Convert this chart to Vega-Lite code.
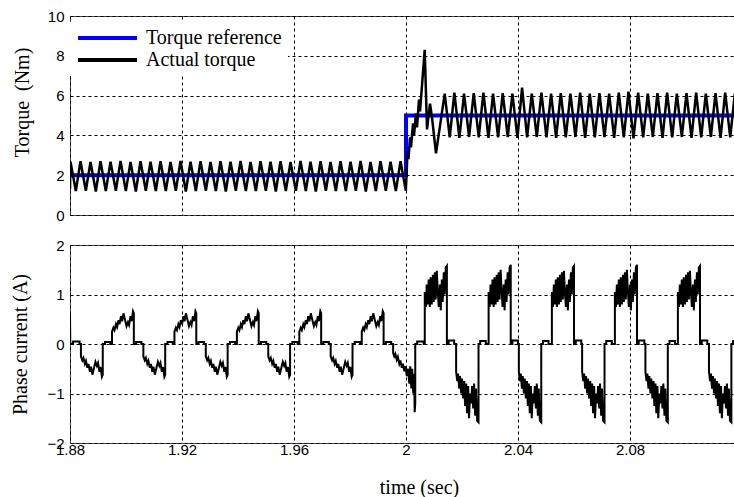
{
"$schema": "https://vega.github.io/schema/vega-lite/v6.json",
"background": "white",
"autosize": {"type": "pad"},
"padding": {"left": 10, "top": 8, "right": 0, "bottom": 4},
"spacing": 30,
"bounds": "flush",
"config": {
 "view": {"stroke": "#444", "strokeWidth": 1},
 "axis": {"grid": true, "gridColor": "black", "gridDash": [3, 3], "gridOpacity": 1, "gridWidth": 1, "domain": false, "ticks": false, "labelFont": "Liberation Sans", "labelFontSize": 15, "labelColor": "black", "labelOverlap": false, "titleFont": "Liberation Serif", "titleFontSize": 20, "titleFontWeight": "normal", "titleColor": "black", "labelPadding": 6},
 "legend": {"labelFont": "Liberation Serif", "labelFontSize": 20, "labelColor": "black"}
},
"datasets": {
 "ref": [{"t":1.88,"v":2},{"t":2.0,"v":2},{"t":2.0,"v":5},{"t":2.12,"v":5}],
 "torque": [
{"t":1.88,"v":1.3},
{"t":1.88018,"v":2.68},{"t":1.88208,"v":1.2},
{"t":1.88375,"v":2.7},{"t":1.88565,"v":1.22},
{"t":1.88732,"v":2.66},{"t":1.88922,"v":1.18},
{"t":1.89089,"v":2.7},{"t":1.89279,"v":1.2},
{"t":1.89447,"v":2.68},{"t":1.89637,"v":1.22},
{"t":1.89804,"v":2.72},{"t":1.89994,"v":1.2},
{"t":1.90161,"v":2.66},{"t":1.90351,"v":1.18},
{"t":1.90518,"v":2.7},{"t":1.90708,"v":1.22},
{"t":1.90875,"v":2.68},{"t":1.91065,"v":1.2},
{"t":1.91232,"v":2.7},{"t":1.91422,"v":1.2},
{"t":1.91589,"v":2.66},{"t":1.91779,"v":1.22},
{"t":1.91947,"v":2.72},{"t":1.92137,"v":1.18},
{"t":1.92304,"v":2.68},{"t":1.92494,"v":1.2},
{"t":1.92661,"v":2.7},{"t":1.92851,"v":1.22},
{"t":1.93018,"v":2.66},{"t":1.93208,"v":1.2},
{"t":1.93375,"v":2.7},{"t":1.93565,"v":1.18},
{"t":1.93732,"v":2.68},{"t":1.93922,"v":1.22},
{"t":1.94089,"v":2.72},{"t":1.94279,"v":1.2},
{"t":1.94447,"v":2.66},{"t":1.94637,"v":1.2},
{"t":1.94804,"v":2.7},{"t":1.94994,"v":1.22},
{"t":1.95161,"v":2.68},{"t":1.95351,"v":1.18},
{"t":1.95518,"v":2.7},{"t":1.95708,"v":1.2},
{"t":1.95875,"v":2.66},{"t":1.96065,"v":1.22},
{"t":1.96232,"v":2.72},{"t":1.96422,"v":1.2},
{"t":1.96589,"v":2.68},{"t":1.96779,"v":1.18},
{"t":1.96947,"v":2.7},{"t":1.97137,"v":1.22},
{"t":1.97304,"v":2.66},{"t":1.97494,"v":1.2},
{"t":1.97661,"v":2.7},{"t":1.97851,"v":1.2},
{"t":1.98018,"v":2.68},{"t":1.98208,"v":1.22},
{"t":1.98375,"v":2.72},{"t":1.98565,"v":1.18},
{"t":1.98732,"v":2.66},{"t":1.98922,"v":1.2},
{"t":1.99089,"v":2.7},{"t":1.99279,"v":1.22},
{"t":1.99447,"v":2.68},{"t":1.99637,"v":1.2},
{"t":1.99804,"v":2.7},{"t":1.99994,"v":1.22},
{"t":2.00054,"v":3.2},{"t":2.00089,"v":2.8},{"t":2.00143,"v":3.9},{"t":2.00179,"v":3.4},{"t":2.0025,"v":4.6},{"t":2.00286,"v":4.0},{"t":2.00357,"v":5.1},{"t":2.00393,"v":4.4},{"t":2.00464,"v":5.8},{"t":2.005,"v":5.2},{"t":2.00668,"v":8.3},{"t":2.0075,"v":4.3},{"t":2.00857,"v":5.6},{"t":2.00929,"v":4.9},{"t":2.01071,"v":3.1},
{"t":2.01382,"v":6.1},{"t":2.01562,"v":3.9},
{"t":2.01727,"v":6.15},{"t":2.01907,"v":3.88},
{"t":2.02073,"v":6.1},{"t":2.02253,"v":3.92},
{"t":2.02418,"v":6.12},{"t":2.02598,"v":3.9},
{"t":2.02764,"v":6.15},{"t":2.02944,"v":3.88},
{"t":2.03109,"v":6.1},{"t":2.03289,"v":3.9},
{"t":2.03454,"v":6.12},{"t":2.03634,"v":3.92},
{"t":2.038,"v":6.1},{"t":2.0398,"v":3.88},
{"t":2.04145,"v":6.4},{"t":2.04325,"v":3.9},
{"t":2.04491,"v":6.1},{"t":2.04671,"v":3.92},
{"t":2.04836,"v":6.15},{"t":2.05016,"v":3.9},
{"t":2.05181,"v":6.1},{"t":2.05361,"v":3.88},
{"t":2.05527,"v":6.12},{"t":2.05707,"v":3.9},
{"t":2.05872,"v":6.1},{"t":2.06052,"v":3.92},
{"t":2.06218,"v":6.15},{"t":2.06398,"v":3.88},
{"t":2.06563,"v":6.1},{"t":2.06743,"v":3.9},
{"t":2.06908,"v":6.12},{"t":2.07088,"v":3.92},
{"t":2.07254,"v":6.1},{"t":2.07434,"v":3.88},
{"t":2.07599,"v":6.15},{"t":2.07779,"v":3.9},
{"t":2.07945,"v":6.2},{"t":2.08125,"v":3.85},
{"t":2.0829,"v":6.15},{"t":2.0847,"v":3.9},
{"t":2.08635,"v":6.1},{"t":2.08815,"v":3.92},
{"t":2.08981,"v":6.12},{"t":2.09161,"v":3.88},
{"t":2.09326,"v":6.15},{"t":2.09506,"v":3.9},
{"t":2.09672,"v":6.1},{"t":2.09852,"v":3.92},
{"t":2.10017,"v":6.12},{"t":2.10197,"v":3.88},
{"t":2.10362,"v":6.15},{"t":2.10542,"v":3.9},
{"t":2.10708,"v":6.1},{"t":2.10888,"v":3.92},
{"t":2.11053,"v":6.12},{"t":2.11233,"v":3.88},
{"t":2.11399,"v":6.15},{"t":2.11579,"v":3.9},
{"t":2.11744,"v":6.1},{"t":2.11924,"v":3.9}
 ],
 "current": [
{"t":1.88,"v":0.6},{"t":1.8801,"v":0},{"t":1.8811,"v":0},{"t":1.8811,"v":0.05},{"t":1.8834,"v":0.05},{"t":1.8834,"v":0},{"t":1.8839,"v":0},
{"t":1.8839,"v":-0.25},{"t":1.8844,"v":-0.33},{"t":1.8848,"v":-0.28},{"t":1.8853,"v":-0.4},{"t":1.8857,"v":-0.34},{"t":1.8862,"v":-0.48},{"t":1.8866,"v":-0.4},{"t":1.8871,"v":-0.56},{"t":1.8875,"v":-0.46},{"t":1.888,"v":-0.62},{"t":1.8885,"v":-0.5},{"t":1.8891,"v":-0.36},{"t":1.8896,"v":-0.44},{"t":1.89,"v":-0.38},{"t":1.8905,"v":-0.56},{"t":1.8909,"v":-0.46},{"t":1.8914,"v":-0.66},{"t":1.8917,"v":-0.62},{"t":1.8917,"v":0},
{"t":1.8925,"v":0},{"t":1.8925,"v":0.04},{"t":1.8944,"v":0.04},{"t":1.8944,"v":0},{"t":1.895,"v":0},
{"t":1.895,"v":0.25},{"t":1.8955,"v":0.33},{"t":1.8959,"v":0.28},{"t":1.8964,"v":0.4},{"t":1.8968,"v":0.34},{"t":1.8973,"v":0.48},{"t":1.8977,"v":0.4},{"t":1.8982,"v":0.56},{"t":1.8986,"v":0.46},{"t":1.8991,"v":0.62},{"t":1.8996,"v":0.5},{"t":1.9002,"v":0.36},{"t":1.9007,"v":0.44},{"t":1.9011,"v":0.38},{"t":1.9016,"v":0.56},{"t":1.902,"v":0.46},{"t":1.9025,"v":0.66},{"t":1.9028,"v":0.62},{"t":1.9028,"v":0},
{"t":1.9036,"v":0},{"t":1.9036,"v":0.04},{"t":1.9055,"v":0.04},{"t":1.9055,"v":0},{"t":1.9062,"v":0},
{"t":1.9062,"v":-0.25},{"t":1.9067,"v":-0.33},{"t":1.9071,"v":-0.28},{"t":1.9076,"v":-0.4},{"t":1.908,"v":-0.34},{"t":1.9085,"v":-0.48},{"t":1.9089,"v":-0.4},{"t":1.9094,"v":-0.56},{"t":1.9098,"v":-0.46},{"t":1.9103,"v":-0.62},{"t":1.9108,"v":-0.5},{"t":1.9114,"v":-0.36},{"t":1.9119,"v":-0.44},{"t":1.9123,"v":-0.38},{"t":1.9128,"v":-0.56},{"t":1.9132,"v":-0.46},{"t":1.9137,"v":-0.66},{"t":1.914,"v":-0.62},{"t":1.914,"v":0},
{"t":1.9148,"v":0},{"t":1.9148,"v":0.04},{"t":1.9167,"v":0.04},{"t":1.9167,"v":0},{"t":1.9173,"v":0},
{"t":1.9173,"v":0.25},{"t":1.9178,"v":0.33},{"t":1.9182,"v":0.28},{"t":1.9187,"v":0.4},{"t":1.9191,"v":0.34},{"t":1.9196,"v":0.48},{"t":1.92,"v":0.4},{"t":1.9205,"v":0.56},{"t":1.9209,"v":0.46},{"t":1.9214,"v":0.62},{"t":1.9219,"v":0.5},{"t":1.9225,"v":0.36},{"t":1.923,"v":0.44},{"t":1.9234,"v":0.38},{"t":1.9239,"v":0.56},{"t":1.9243,"v":0.46},{"t":1.9248,"v":0.66},{"t":1.9251,"v":0.62},{"t":1.9251,"v":0},
{"t":1.9259,"v":0},{"t":1.9259,"v":0.04},{"t":1.9278,"v":0.04},{"t":1.9278,"v":0},{"t":1.9285,"v":0},
{"t":1.9285,"v":-0.25},{"t":1.929,"v":-0.33},{"t":1.9294,"v":-0.28},{"t":1.9299,"v":-0.4},{"t":1.9303,"v":-0.34},{"t":1.9308,"v":-0.48},{"t":1.9312,"v":-0.4},{"t":1.9317,"v":-0.56},{"t":1.9321,"v":-0.46},{"t":1.9326,"v":-0.62},{"t":1.9331,"v":-0.5},{"t":1.9337,"v":-0.36},{"t":1.9342,"v":-0.44},{"t":1.9346,"v":-0.38},{"t":1.9351,"v":-0.56},{"t":1.9355,"v":-0.46},{"t":1.936,"v":-0.66},{"t":1.9363,"v":-0.62},{"t":1.9363,"v":0},
{"t":1.9371,"v":0},{"t":1.9371,"v":0.04},{"t":1.939,"v":0.04},{"t":1.939,"v":0},{"t":1.9396,"v":0},
{"t":1.9396,"v":0.25},{"t":1.9401,"v":0.33},{"t":1.9405,"v":0.28},{"t":1.941,"v":0.4},{"t":1.9414,"v":0.34},{"t":1.9419,"v":0.48},{"t":1.9423,"v":0.4},{"t":1.9428,"v":0.56},{"t":1.9432,"v":0.46},{"t":1.9437,"v":0.62},{"t":1.9442,"v":0.5},{"t":1.9448,"v":0.36},{"t":1.9453,"v":0.44},{"t":1.9457,"v":0.38},{"t":1.9462,"v":0.56},{"t":1.9466,"v":0.46},{"t":1.9471,"v":0.66},{"t":1.9474,"v":0.62},{"t":1.9474,"v":0},
{"t":1.9482,"v":0},{"t":1.9482,"v":0.04},{"t":1.9501,"v":0.04},{"t":1.9501,"v":0},{"t":1.9508,"v":0},
{"t":1.9508,"v":-0.25},{"t":1.9513,"v":-0.33},{"t":1.9517,"v":-0.28},{"t":1.9522,"v":-0.4},{"t":1.9526,"v":-0.34},{"t":1.9531,"v":-0.48},{"t":1.9535,"v":-0.4},{"t":1.954,"v":-0.56},{"t":1.9544,"v":-0.46},{"t":1.9549,"v":-0.62},{"t":1.9554,"v":-0.5},{"t":1.956,"v":-0.36},{"t":1.9565,"v":-0.44},{"t":1.9569,"v":-0.38},{"t":1.9574,"v":-0.56},{"t":1.9578,"v":-0.46},{"t":1.9583,"v":-0.66},{"t":1.9586,"v":-0.62},{"t":1.9586,"v":0},
{"t":1.9594,"v":0},{"t":1.9594,"v":0.04},{"t":1.9613,"v":0.04},{"t":1.9613,"v":0},{"t":1.9619,"v":0},
{"t":1.9619,"v":0.25},{"t":1.9624,"v":0.33},{"t":1.9628,"v":0.28},{"t":1.9633,"v":0.4},{"t":1.9637,"v":0.34},{"t":1.9642,"v":0.48},{"t":1.9646,"v":0.4},{"t":1.9651,"v":0.56},{"t":1.9655,"v":0.46},{"t":1.966,"v":0.62},{"t":1.9665,"v":0.5},{"t":1.9671,"v":0.36},{"t":1.9676,"v":0.44},{"t":1.968,"v":0.38},{"t":1.9685,"v":0.56},{"t":1.9689,"v":0.46},{"t":1.9694,"v":0.66},{"t":1.9697,"v":0.62},{"t":1.9697,"v":0},
{"t":1.9705,"v":0},{"t":1.9705,"v":0.04},{"t":1.9724,"v":0.04},{"t":1.9724,"v":0},{"t":1.9731,"v":0},
{"t":1.9731,"v":-0.25},{"t":1.9736,"v":-0.33},{"t":1.974,"v":-0.28},{"t":1.9745,"v":-0.4},{"t":1.9749,"v":-0.34},{"t":1.9754,"v":-0.48},{"t":1.9758,"v":-0.4},{"t":1.9763,"v":-0.56},{"t":1.9767,"v":-0.46},{"t":1.9772,"v":-0.62},{"t":1.9777,"v":-0.5},{"t":1.9783,"v":-0.36},{"t":1.9788,"v":-0.44},{"t":1.9792,"v":-0.38},{"t":1.9797,"v":-0.56},{"t":1.9801,"v":-0.46},{"t":1.9806,"v":-0.66},{"t":1.9809,"v":-0.62},{"t":1.9809,"v":0},
{"t":1.9817,"v":0},{"t":1.9817,"v":0.04},{"t":1.9836,"v":0.04},{"t":1.9836,"v":0},{"t":1.9842,"v":0},
{"t":1.9842,"v":0.25},{"t":1.9847,"v":0.33},{"t":1.9851,"v":0.28},{"t":1.9856,"v":0.4},{"t":1.986,"v":0.34},{"t":1.9865,"v":0.48},{"t":1.9869,"v":0.4},{"t":1.9874,"v":0.56},{"t":1.9878,"v":0.46},{"t":1.9883,"v":0.62},{"t":1.9888,"v":0.5},{"t":1.9894,"v":0.36},{"t":1.9899,"v":0.44},{"t":1.9903,"v":0.38},{"t":1.9908,"v":0.56},{"t":1.9912,"v":0.46},{"t":1.9917,"v":0.66},{"t":1.992,"v":0.62},{"t":1.992,"v":0},
{"t":1.9928,"v":0},{"t":1.9928,"v":0.04},{"t":1.9947,"v":0.04},{"t":1.9947,"v":0},{"t":1.9954,"v":0},
{"t":1.9954,"v":-0.18},{"t":1.9958,"v":-0.25},{"t":1.9962,"v":-0.2},{"t":1.9967,"v":-0.32},{"t":1.9971,"v":-0.26},{"t":1.9976,"v":-0.4},{"t":1.998,"v":-0.33},{"t":1.9985,"v":-0.48},{"t":1.9989,"v":-0.4},{"t":1.9994,"v":-0.55},{"t":1.9998,"v":-0.45},{"t":2.0003,"v":-0.65},{"t":2.0007,"v":-0.5},{"t":2.0012,"v":-0.8},{"t":2.0015,"v":-0.45},{"t":2.0019,"v":-0.9},{"t":2.0022,"v":-0.5},{"t":2.0026,"v":-1.0},{"t":2.0029,"v":-0.6},{"t":2.0031,"v":-1.38},{"t":2.0033,"v":-1.2},{"t":2.0033,"v":0},
{"t":2.004,"v":0},{"t":2.004,"v":0.05},{"t":2.0063,"v":0.05},{"t":2.0063,"v":0},{"t":2.0067,"v":0},
{"t":2.0067,"v":1.05},{"t":2.0071,"v":0.75},{"t":2.0074,"v":1.2},{"t":2.0078,"v":0.8},{"t":2.0081,"v":1.3},{"t":2.0085,"v":0.75},{"t":2.0088,"v":1.35},{"t":2.0092,"v":0.8},{"t":2.0096,"v":1.4},{"t":2.0099,"v":0.85},{"t":2.0103,"v":1.45},{"t":2.0106,"v":0.9},{"t":2.011,"v":1.48},{"t":2.0113,"v":1.1},{"t":2.0117,"v":0.75},{"t":2.0121,"v":1.2},{"t":2.0124,"v":0.68},{"t":2.0128,"v":1.3},{"t":2.0131,"v":0.85},{"t":2.0135,"v":1.45},{"t":2.0138,"v":1.0},{"t":2.0142,"v":1.55},{"t":2.0146,"v":1.58},{"t":2.0146,"v":0},
{"t":2.0152,"v":0},{"t":2.0152,"v":0.07},{"t":2.0172,"v":0.07},{"t":2.0172,"v":0},{"t":2.0179,"v":0},
{"t":2.0179,"v":-0.56},{"t":2.0183,"v":-0.75},{"t":2.0186,"v":-0.6},{"t":2.019,"v":-0.9},{"t":2.0193,"v":-0.65},{"t":2.0197,"v":-1.0},{"t":2.02,"v":-0.7},{"t":2.0204,"v":-1.1},{"t":2.0208,"v":-0.75},{"t":2.0211,"v":-1.25},{"t":2.0215,"v":-0.8},{"t":2.0218,"v":-1.4},{"t":2.0222,"v":-0.85},{"t":2.0225,"v":-1.5},{"t":2.0229,"v":-1.0},{"t":2.0233,"v":-1.2},{"t":2.0236,"v":-0.85},{"t":2.024,"v":-1.3},{"t":2.0243,"v":-0.8},{"t":2.0247,"v":-1.45},{"t":2.025,"v":-0.9},{"t":2.0254,"v":-1.55},{"t":2.0259,"v":-1.58},{"t":2.0259,"v":0},
{"t":2.0265,"v":0},{"t":2.0265,"v":0.06},{"t":2.0285,"v":0.06},{"t":2.0285,"v":0},{"t":2.0295,"v":0},
{"t":2.0295,"v":1.05},{"t":2.0299,"v":0.75},{"t":2.0302,"v":1.2},{"t":2.0306,"v":0.8},{"t":2.0309,"v":1.3},{"t":2.0313,"v":0.75},{"t":2.0316,"v":1.35},{"t":2.032,"v":0.8},{"t":2.0324,"v":1.4},{"t":2.0327,"v":0.85},{"t":2.0331,"v":1.45},{"t":2.0334,"v":0.9},{"t":2.0338,"v":1.5},{"t":2.0341,"v":1.1},{"t":2.0345,"v":0.75},{"t":2.0349,"v":1.2},{"t":2.0352,"v":0.68},{"t":2.0356,"v":1.3},{"t":2.0359,"v":0.85},{"t":2.0363,"v":1.45},{"t":2.0366,"v":1.0},{"t":2.037,"v":1.55},{"t":2.0374,"v":1.6},{"t":2.0374,"v":0},
{"t":2.038,"v":0},{"t":2.038,"v":0.07},{"t":2.04,"v":0.07},{"t":2.04,"v":0},{"t":2.0403,"v":0},
{"t":2.0403,"v":-0.56},{"t":2.0407,"v":-0.75},{"t":2.041,"v":-0.6},{"t":2.0414,"v":-0.9},{"t":2.0417,"v":-0.65},{"t":2.0421,"v":-1.0},{"t":2.0424,"v":-0.7},{"t":2.0428,"v":-1.1},{"t":2.0432,"v":-0.75},{"t":2.0435,"v":-1.25},{"t":2.0439,"v":-0.8},{"t":2.0442,"v":-1.4},{"t":2.0446,"v":-0.85},{"t":2.0449,"v":-1.5},{"t":2.0453,"v":-1.0},{"t":2.0457,"v":-1.2},{"t":2.046,"v":-0.85},{"t":2.0464,"v":-1.3},{"t":2.0467,"v":-0.8},{"t":2.0471,"v":-1.45},{"t":2.0474,"v":-0.9},{"t":2.0478,"v":-1.55},{"t":2.0483,"v":-1.58},{"t":2.0483,"v":0},
{"t":2.0489,"v":0},{"t":2.0489,"v":0.06},{"t":2.0509,"v":0.06},{"t":2.0509,"v":0},{"t":2.0521,"v":0},
{"t":2.0521,"v":1.05},{"t":2.0525,"v":0.75},{"t":2.0528,"v":1.2},{"t":2.0532,"v":0.8},{"t":2.0535,"v":1.3},{"t":2.0539,"v":0.75},{"t":2.0542,"v":1.35},{"t":2.0546,"v":0.8},{"t":2.055,"v":1.4},{"t":2.0553,"v":0.85},{"t":2.0557,"v":1.45},{"t":2.056,"v":0.9},{"t":2.0564,"v":1.48},{"t":2.0567,"v":1.1},{"t":2.0571,"v":0.75},{"t":2.0575,"v":1.2},{"t":2.0578,"v":0.68},{"t":2.0582,"v":1.3},{"t":2.0585,"v":0.85},{"t":2.0589,"v":1.45},{"t":2.0592,"v":1.0},{"t":2.0596,"v":1.55},{"t":2.06,"v":1.58},{"t":2.06,"v":0},
{"t":2.0606,"v":0},{"t":2.0606,"v":0.07},{"t":2.0626,"v":0.07},{"t":2.0626,"v":0},{"t":2.0629,"v":0},
{"t":2.0629,"v":-0.56},{"t":2.0633,"v":-0.75},{"t":2.0636,"v":-0.6},{"t":2.064,"v":-0.9},{"t":2.0643,"v":-0.65},{"t":2.0647,"v":-1.0},{"t":2.065,"v":-0.7},{"t":2.0654,"v":-1.1},{"t":2.0658,"v":-0.75},{"t":2.0661,"v":-1.25},{"t":2.0665,"v":-0.8},{"t":2.0668,"v":-1.4},{"t":2.0672,"v":-0.85},{"t":2.0675,"v":-1.5},{"t":2.0679,"v":-1.0},{"t":2.0683,"v":-1.2},{"t":2.0686,"v":-0.85},{"t":2.069,"v":-1.3},{"t":2.0693,"v":-0.8},{"t":2.0697,"v":-1.45},{"t":2.07,"v":-0.9},{"t":2.0704,"v":-1.55},{"t":2.0709,"v":-1.58},{"t":2.0709,"v":0},
{"t":2.0715,"v":0},{"t":2.0715,"v":0.06},{"t":2.0735,"v":0.06},{"t":2.0735,"v":0},{"t":2.0746,"v":0},
{"t":2.0746,"v":1.05},{"t":2.075,"v":0.75},{"t":2.0753,"v":1.2},{"t":2.0757,"v":0.8},{"t":2.076,"v":1.3},{"t":2.0764,"v":0.75},{"t":2.0767,"v":1.35},{"t":2.0771,"v":0.8},{"t":2.0775,"v":1.4},{"t":2.0778,"v":0.85},{"t":2.0782,"v":1.45},{"t":2.0785,"v":0.9},{"t":2.0789,"v":1.5},{"t":2.0792,"v":1.1},{"t":2.0796,"v":0.75},{"t":2.08,"v":1.2},{"t":2.0803,"v":0.68},{"t":2.0807,"v":1.3},{"t":2.081,"v":0.85},{"t":2.0814,"v":1.45},{"t":2.0817,"v":1.0},{"t":2.0821,"v":1.55},{"t":2.0825,"v":1.6},{"t":2.0825,"v":0},
{"t":2.0831,"v":0},{"t":2.0831,"v":0.07},{"t":2.0851,"v":0.07},{"t":2.0851,"v":0},{"t":2.0855,"v":0},
{"t":2.0855,"v":-0.56},{"t":2.0859,"v":-0.75},{"t":2.0862,"v":-0.6},{"t":2.0866,"v":-0.9},{"t":2.0869,"v":-0.65},{"t":2.0873,"v":-1.0},{"t":2.0876,"v":-0.7},{"t":2.088,"v":-1.1},{"t":2.0884,"v":-0.75},{"t":2.0887,"v":-1.25},{"t":2.0891,"v":-0.8},{"t":2.0894,"v":-1.4},{"t":2.0898,"v":-0.85},{"t":2.0901,"v":-1.5},{"t":2.0905,"v":-1.0},{"t":2.0909,"v":-1.2},{"t":2.0912,"v":-0.85},{"t":2.0916,"v":-1.3},{"t":2.0919,"v":-0.8},{"t":2.0923,"v":-1.45},{"t":2.0926,"v":-0.9},{"t":2.093,"v":-1.55},{"t":2.0935,"v":-1.58},{"t":2.0935,"v":0},
{"t":2.0941,"v":0},{"t":2.0941,"v":0.06},{"t":2.0961,"v":0.06},{"t":2.0961,"v":0},{"t":2.0971,"v":0},
{"t":2.0971,"v":1.05},{"t":2.0975,"v":0.75},{"t":2.0978,"v":1.2},{"t":2.0982,"v":0.8},{"t":2.0985,"v":1.3},{"t":2.0989,"v":0.75},{"t":2.0992,"v":1.35},{"t":2.0996,"v":0.8},{"t":2.1,"v":1.4},{"t":2.1003,"v":0.85},{"t":2.1007,"v":1.45},{"t":2.101,"v":0.9},{"t":2.1014,"v":1.48},{"t":2.1017,"v":1.1},{"t":2.1021,"v":0.75},{"t":2.1025,"v":1.2},{"t":2.1028,"v":0.68},{"t":2.1032,"v":1.3},{"t":2.1035,"v":0.85},{"t":2.1039,"v":1.45},{"t":2.1042,"v":1.0},{"t":2.1046,"v":1.55},{"t":2.105,"v":1.58},{"t":2.105,"v":0},
{"t":2.1056,"v":0},{"t":2.1056,"v":0.07},{"t":2.1076,"v":0.07},{"t":2.1076,"v":0},{"t":2.1082,"v":0},
{"t":2.1082,"v":-0.56},{"t":2.1086,"v":-0.75},{"t":2.1089,"v":-0.6},{"t":2.1093,"v":-0.9},{"t":2.1096,"v":-0.65},{"t":2.11,"v":-1.0},{"t":2.1103,"v":-0.7},{"t":2.1107,"v":-1.1},{"t":2.1111,"v":-0.75},{"t":2.1114,"v":-1.25},{"t":2.1118,"v":-0.8},{"t":2.1121,"v":-1.4},{"t":2.1125,"v":-0.85},{"t":2.1128,"v":-1.5},{"t":2.1132,"v":-1.0},{"t":2.1136,"v":-1.2},{"t":2.1139,"v":-0.85},{"t":2.1143,"v":-1.3},{"t":2.1146,"v":-0.8},{"t":2.115,"v":-1.45},{"t":2.1153,"v":-0.9},{"t":2.1157,"v":-1.55},{"t":2.1162,"v":-1.58},{"t":2.1162,"v":0},
{"t":2.1168,"v":0},{"t":2.1168,"v":0.06},{"t":2.1188,"v":0.06},{"t":2.1188,"v":0},{"t":2.1196,"v":0},{"t":2.1196,"v":1.05},{"t":2.12,"v":0.75}
 ]
},
"vconcat": [
 {
  "width": 667, "height": 199,
  "encoding": {
   "x": {"field": "t", "type": "quantitative", "scale": {"domain": [1.88, 2.11821], "nice": false, "zero": false}, "axis": {"labels": false, "title": null, "values": [1.88, 1.92, 1.96, 2, 2.04, 2.08]}},
   "y": {"field": "v", "type": "quantitative", "scale": {"domain": [0, 10], "nice": false, "zero": false}, "axis": {"values": [0, 2, 4, 6, 8, 10], "tickCount": 6, "title": "Torque\u00a0 (Nm)", "titlePadding": 15, "titleY": 86}},
   "order": {"value": null}
  },
  "layer": [
   {
    "data": {"name": "ref"},
    "mark": {"type": "line", "strokeWidth": 4, "clip": true},
    "encoding": {
     "color": {"datum": "Torque reference", "type": "nominal", "scale": {"domain": ["Torque reference", "Actual torque"], "range": ["#0000ff", "#000000"]}, "legend": {"orient": "none", "legendX": 0, "legendY": 6, "title": null, "fillColor": "white", "padding": 6, "symbolType": "stroke", "symbolSize": 3481, "symbolStrokeWidth": 4, "clipHeight": 20, "rowPadding": 2, "labelOffset": 7}}
    }
   },
   {
    "data": {"name": "torque"},
    "mark": {"type": "line", "strokeWidth": 2.5, "clip": true},
    "encoding": {
     "color": {"datum": "Actual torque", "type": "nominal"}
    }
   }
  ]
 },
 {
  "width": 667, "height": 198,
  "data": {"name": "current"},
  "mark": {"type": "line", "strokeWidth": 2, "color": "black", "clip": true},
  "encoding": {
   "x": {"field": "t", "type": "quantitative", "scale": {"domain": [1.88, 2.11821], "nice": false, "zero": false}, "axis": {"values": [1.88, 1.92, 1.96, 2, 2.04, 2.08], "format": ".2~f", "labelFlush": false, "labelPadding": -1, "title": "time (sec)", "titlePadding": 20, "titleX": 349}},
   "y": {"field": "v", "type": "quantitative", "scale": {"domain": [-2, 2], "nice": false}, "axis": {"values": [-2, -1, 0, 1, 2], "title": "Phase current (A)", "titlePadding": 16}},
   "order": {"value": null}
  }
 }
]
}
